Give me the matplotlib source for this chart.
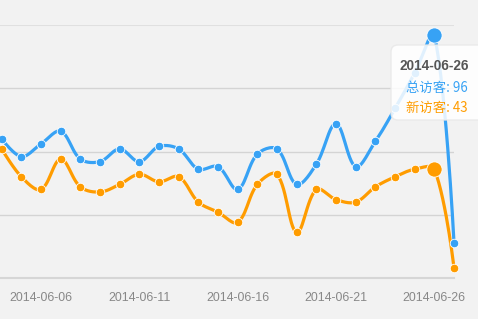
import numpy as np
import matplotlib
matplotlib.use("Agg")
import matplotlib.pyplot as plt
from matplotlib.patches import FancyBboxPatch
import pandas as pd

# Data (visible window 2014-06-04 .. 2014-06-27)
dates = pd.date_range("2014-06-04", "2014-06-27").strftime("%Y-%m-%d").tolist()
total_visitors = [55, 48, 53, 58, 47, 46, 51, 46, 52, 51, 43, 44,
                  35, 49, 51, 37, 45, 61, 44, 54, 67, 81, 96, 14]
new_visitors = [51, 40, 35, 47, 36, 34, 37, 41, 38, 40, 30, 26,
                22, 37, 41, 18, 35, 31, 30, 36, 40, 43, 43, 4]
tick_dates = ["2014-06-06", "2014-06-11", "2014-06-16", "2014-06-21", "2014-06-26"]
highlight = "2014-06-26"
labels = ["总访客", "新访客"]

BLUE = "#37a2f5"
ORANGE = "#ff9c00"
BG = "#f2f2f2"

W, H = 478, 319
SX, SY = 19.67, 2.532  # pixel per day / per unit, used for curve smoothing


def smooth_path(vals, smooth=0.35, n=16):
    """Bezier smoothing of a polyline, similar to echarts' smooth lines."""
    p = np.column_stack([np.arange(len(vals)) * SX, np.asarray(vals, float) * SY])
    N = len(p)
    cin, cout = p.copy(), p.copy()
    for i in range(1, N - 1):
        v = (p[i + 1] - p[i - 1]) * smooth
        d0 = np.linalg.norm(p[i] - p[i - 1])
        d1 = np.linalg.norm(p[i + 1] - p[i])
        cin[i] = p[i] - v * d0 / (d0 + d1)
        cout[i] = p[i] + v * d1 / (d0 + d1)
    t = np.linspace(0, 1, n)[:, None]
    segs = []
    for i in range(N - 1):
        b = ((1 - t) ** 3 * p[i] + 3 * (1 - t) ** 2 * t * cout[i]
             + 3 * (1 - t) * t ** 2 * cin[i + 1] + t ** 3 * p[i + 1])
        segs.append(b if i == 0 else b[1:])
    pts = np.vstack(segs)
    return pts[:, 0] / SX, pts[:, 1] / SY


fig = plt.figure(figsize=(W / 100, H / 100), dpi=100)
fig.patch.set_facecolor(BG)
ax = fig.add_axes([0, (H - 278) / H, 454 / W, (278 - 25) / H])
ax.set_facecolor(BG)

x = np.arange(len(dates))
hi = dates.index(highlight)

for y in [25, 50, 75]:
    ax.axhline(y, color="#d4d4d4", lw=1.0, zorder=1)
ax.axhline(100, color="#e0e0e0", lw=1.5, zorder=1)

for vals, col in [(new_visitors, ORANGE), (total_visitors, BLUE)]:
    sx, sy = smooth_path(vals)
    ax.plot(sx, sy, color=col, lw=2.3, zorder=3, clip_on=False,
            solid_capstyle="round")
    mask = x != hi
    ax.scatter(x[mask], np.asarray(vals)[mask], s=38, color=col,
               edgecolor="white", linewidth=0.6, zorder=4, clip_on=False)
    ax.scatter([x[hi]], [vals[hi]], s=120, color=col, edgecolor="white",
               linewidth=0.6, zorder=5, clip_on=False)

ax.set_xlim(-1.7 / SX, len(dates) - 1)
ax.set_ylim(0, 100)
for s in ["top", "right", "left"]:
    ax.spines[s].set_visible(False)
ax.spines["bottom"].set_color("#d6d6d6")
ax.spines["bottom"].set_linewidth(1.5)
ax.set_yticks([])
ax.set_xticks([dates.index(d) for d in tick_dates])
ax.set_xticklabels(tick_dates, fontsize=8.9, color="#888888",
                   family=["Liberation Sans", "DejaVu Sans"])
ax.tick_params(axis="x", length=0, pad=10)

# tooltip
box = FancyBboxPatch((391, H - 120), 100, 75, boxstyle="round,pad=0,rounding_size=7",
                     transform=None, facecolor="white", edgecolor="#e8e8e8",
                     lw=1, alpha=0.85, zorder=10)
fig.patches.append(box)
fam = ["Noto Sans CJK SC", "DejaVu Sans"]
fig.text(434 / W, 1 - 66 / H, highlight, ha="center", va="center",
         fontsize=9.8, fontweight="bold", color="#555555",
         family=["Liberation Sans", "DejaVu Sans"], zorder=11)
fig.text(436.5 / W, 1 - 88 / H, f"{labels[0]}: {total_visitors[hi]}", ha="center",
         va="center", fontsize=9.6, color=BLUE, family=fam, zorder=11)
fig.text(436.5 / W, 1 - 108 / H, f"{labels[1]}: {new_visitors[hi]}", ha="center",
         va="center", fontsize=9.6, color=ORANGE, family=fam, zorder=11)

fig.savefig("out.png", dpi=100, facecolor=BG)
